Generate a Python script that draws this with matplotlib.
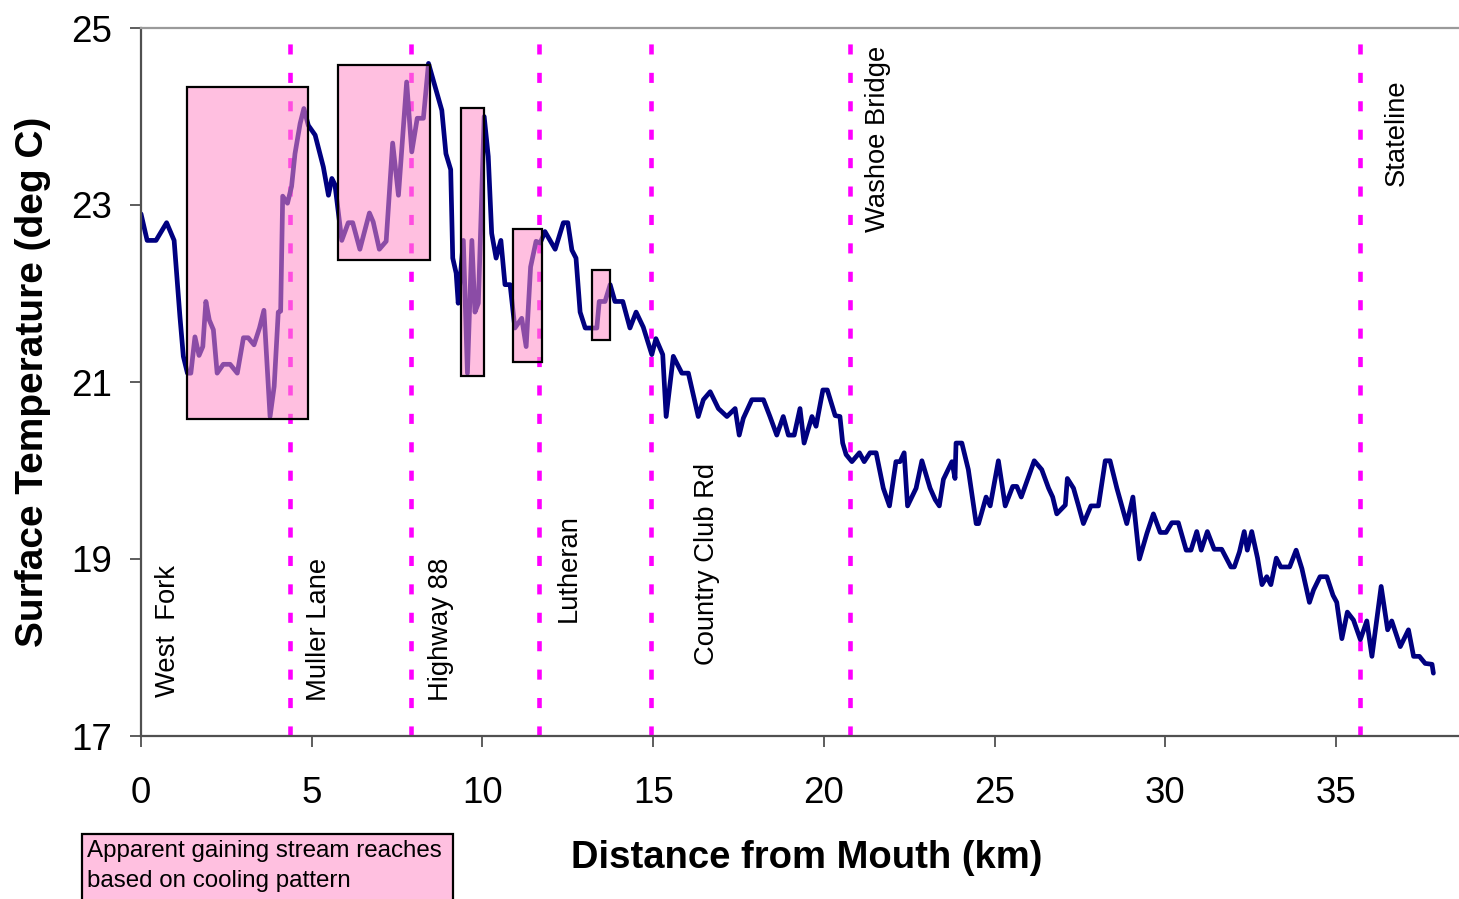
import matplotlib
matplotlib.use("Agg")
import matplotlib.pyplot as plt
from matplotlib.patches import Rectangle

plt.rcParams['font.family'] = ['Liberation Sans', 'DejaVu Sans']

# Longitudinal surface temperature profile (distance from mouth in km, temperature in deg C)
dist_km = [
    0.00, 0.18, 0.44, 0.75, 0.97, 1.14, 1.24, 1.36, 1.46, 1.58,
    1.70, 1.81, 1.90, 2.00, 2.12, 2.23, 2.41, 2.61, 2.82, 3.00,
    3.14, 3.31, 3.47, 3.60, 3.78, 3.90, 4.02, 4.09, 4.15, 4.29,
    4.41, 4.51, 4.66, 4.77, 4.90, 5.10, 5.34, 5.49, 5.59, 5.68,
    5.88, 6.07, 6.20, 6.41, 6.69, 6.80, 6.98, 7.18, 7.37, 7.54,
    7.78, 7.93, 8.09, 8.27, 8.42, 8.81, 8.93, 9.07, 9.13, 9.23,
    9.29, 9.44, 9.56, 9.69, 9.78, 9.88, 10.05, 10.17, 10.27, 10.40,
    10.54, 10.66, 10.81, 10.95, 11.15, 11.28, 11.41, 11.57, 11.69, 11.83,
    12.13, 12.37, 12.50, 12.62, 12.74, 12.86, 13.01, 13.35, 13.42, 13.59,
    13.74, 13.88, 14.11, 14.32, 14.50, 14.71, 14.96, 15.08, 15.28, 15.38,
    15.59, 15.84, 16.03, 16.32, 16.47, 16.67, 16.91, 17.16, 17.40, 17.52,
    17.64, 17.89, 18.23, 18.42, 18.62, 18.81, 18.96, 19.13, 19.30, 19.42,
    19.65, 19.77, 19.97, 20.10, 20.33, 20.47, 20.55, 20.65, 20.82, 21.04,
    21.18, 21.35, 21.53, 21.74, 21.92, 22.11, 22.23, 22.35, 22.45, 22.70,
    22.87, 23.11, 23.26, 23.38, 23.50, 23.75, 23.84, 23.87, 24.04, 24.23,
    24.46, 24.53, 24.75, 24.87, 25.11, 25.31, 25.53, 25.65, 25.78, 26.16,
    26.38, 26.58, 26.70, 26.82, 27.07, 27.13, 27.31, 27.45, 27.60, 27.82,
    28.04, 28.24, 28.38, 28.58, 28.87, 29.05, 29.24, 29.46, 29.65, 29.85,
    30.02, 30.19, 30.38, 30.61, 30.75, 30.92, 31.05, 31.23, 31.43, 31.65,
    31.92, 32.02, 32.17, 32.31, 32.40, 32.53, 32.70, 32.83, 32.97, 33.09,
    33.25, 33.38, 33.64, 33.83, 34.00, 34.22, 34.34, 34.53, 34.73, 34.91,
    35.02, 35.17, 35.33, 35.51, 35.71, 35.90, 36.05, 36.32, 36.51, 36.63,
    36.88, 37.12, 37.27, 37.44, 37.61, 37.81, 37.85,
]
temp_c = [
    22.90, 22.60, 22.60, 22.80, 22.60, 21.74, 21.29, 21.10, 21.10, 21.51,
    21.30, 21.40, 21.91, 21.70, 21.59, 21.10, 21.20, 21.20, 21.10, 21.50,
    21.50, 21.42, 21.61, 21.81, 20.61, 20.95, 21.79, 21.80, 23.10, 23.02,
    23.21, 23.58, 23.92, 24.09, 23.90, 23.79, 23.43, 23.11, 23.30, 23.23,
    22.60, 22.80, 22.80, 22.50, 22.91, 22.81, 22.50, 22.59, 23.70, 23.11,
    24.39, 23.60, 23.98, 23.98, 24.60, 24.07, 23.58, 23.40, 22.40, 22.23,
    21.89, 22.60, 21.10, 22.60, 21.79, 21.89, 24.00, 23.55, 22.68, 22.40,
    22.60, 22.10, 22.10, 21.61, 21.72, 21.40, 22.30, 22.59, 22.57, 22.70,
    22.50, 22.80, 22.80, 22.49, 22.40, 21.79, 21.61, 21.61, 21.91, 21.91,
    22.10, 21.91, 21.91, 21.61, 21.79, 21.62, 21.31, 21.49, 21.31, 20.61,
    21.29, 21.10, 21.10, 20.61, 20.80, 20.89, 20.70, 20.61, 20.70, 20.40,
    20.59, 20.80, 20.80, 20.61, 20.40, 20.61, 20.40, 20.40, 20.70, 20.31,
    20.61, 20.50, 20.91, 20.91, 20.62, 20.61, 20.31, 20.18, 20.10, 20.20,
    20.10, 20.20, 20.20, 19.80, 19.60, 20.10, 20.10, 20.20, 19.60, 19.80,
    20.11, 19.80, 19.67, 19.60, 19.90, 20.10, 19.91, 20.31, 20.31, 20.01,
    19.40, 19.40, 19.70, 19.60, 20.11, 19.60, 19.82, 19.82, 19.70, 20.11,
    20.01, 19.80, 19.70, 19.51, 19.61, 19.91, 19.80, 19.61, 19.40, 19.60,
    19.60, 20.11, 20.11, 19.80, 19.40, 19.70, 19.00, 19.29, 19.51, 19.30,
    19.30, 19.41, 19.41, 19.10, 19.10, 19.31, 19.10, 19.31, 19.11, 19.11,
    18.91, 18.91, 19.08, 19.31, 19.10, 19.31, 19.01, 18.71, 18.80, 18.71,
    19.01, 18.91, 18.91, 19.10, 18.89, 18.51, 18.65, 18.80, 18.80, 18.59,
    18.51, 18.10, 18.40, 18.31, 18.09, 18.30, 17.90, 18.69, 18.20, 18.30,
    18.01, 18.20, 17.90, 17.90, 17.82, 17.81, 17.71,
]

# Road crossings (dashed markers) and site names
crossing_km = [4.36, 7.91, 11.66, 14.94, 20.77, 35.71]
site_names = ["West  Fork", "Muller Lane", "Highway 88", "Lutheran",
              "Country Club Rd", "Washoe Bridge", "Stateline"]
site_km = [1.00, 5.42, 8.99, 12.72, 16.78, 21.80, 36.97]
site_temp = [17.44, 17.39, 17.39, 18.29, 17.80, 22.70, 23.21]

# Apparent gaining reaches (distance span and temperature span)
reach_start = [1.34, 5.78, 9.37, 10.89, 13.20]
reach_end = [4.88, 8.46, 10.06, 11.75, 13.74]
reach_low = [20.58, 22.38, 21.07, 21.23, 21.48]
reach_high = [24.33, 24.58, 24.10, 22.73, 22.27]

W, H = 1459, 899
fig = plt.figure(figsize=(W / 100, H / 100), dpi=100)
fig.patch.set_facecolor("white")
ax = fig.add_axes([141 / W, (H - 736) / H, (W - 141) / W, (736 - 28) / H])
ax.set_xlim(0, 38.6)
ax.set_ylim(17, 25)

ax.plot(dist_km, temp_c, color="#000080", lw=3.4, zorder=2,
        solid_joinstyle="round", solid_capstyle="round")

for xc in crossing_km:
    ax.axvline(xc, color="#FF00FF", lw=3.3, dashes=(2.2, 4.0),
               dash_capstyle="butt", zorder=1.5)

for x0, x1, y0, y1 in zip(reach_start, reach_end, reach_low, reach_high):
    ax.add_patch(Rectangle((x0, y0), x1 - x0, y1 - y0,
                           facecolor=(1.0, 0.55, 0.78, 0.55),
                           edgecolor="black", lw=1.6, zorder=4))

for name, xk, yt in zip(site_names, site_km, site_temp):
    ax.text(xk, yt, name, rotation=90, rotation_mode="anchor",
            ha="left", va="baseline", fontsize=19.7, color="black", zorder=5)

ax.set_xticks([0, 5, 10, 15, 20, 25, 30, 35])
ax.set_yticks([17, 19, 21, 23, 25])
ax.tick_params(axis="both", direction="out", length=8, width=1.3,
               color="#505050", labelsize=26.5, labelcolor="black")
ax.tick_params(axis="x", pad=21)
ax.tick_params(axis="y", pad=13)

for side in ("left", "bottom"):
    ax.spines[side].set_color("#505050")
    ax.spines[side].set_linewidth(1.6)
ax.spines["top"].set_color("#9a9a9a")
ax.spines["top"].set_linewidth(1.6)
ax.spines["right"].set_visible(False)

fig.text(33 / W, 1 - 381.5 / H, "Surface Temperature (deg C)", rotation=90,
         ha="center", va="center", fontsize=28, fontweight="bold")
fig.text(807 / W, 1 - 858 / H, "Distance from Mouth (km)",
         ha="center", va="center", fontsize=27.5, fontweight="bold")

# Key for the shaded reaches
fig.patches.append(Rectangle((82 / W, -10 / H), (453 - 82) / W, (899 + 10 - 834) / H,
                             transform=fig.transFigure, facecolor="#FFC0E0",
                             edgecolor="black", lw=1.6, zorder=3))
fig.text(87 / W, 1 - 857 / H, "Apparent gaining stream reaches",
         ha="left", va="baseline", fontsize=17.4, zorder=4)
fig.text(87 / W, 1 - 887 / H, "based on cooling pattern",
         ha="left", va="baseline", fontsize=17.4, zorder=4)

fig.savefig("out.png", dpi=100)
